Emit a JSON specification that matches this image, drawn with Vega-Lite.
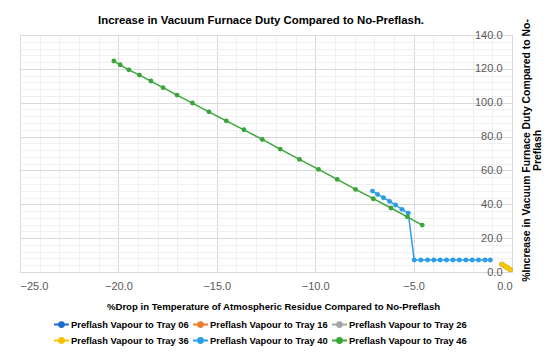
{
  "$schema": "https://vega.github.io/schema/vega-lite/v6.json",
  "width": 492,
  "height": 237,
  "autosize": {"type": "none"},
  "padding": {"left": 20, "top": 35, "right": 38, "bottom": 85},
  "background": "white",
  "title": {"text": "Increase in Vacuum Furnace Duty Compared to No-Preflash.", "font": "Liberation Sans", "fontSize": 11.4, "fontWeight": "bold", "color": "#000000", "anchor": "middle", "offset": -9, "dx": -5},
  "config": {"view": {"stroke": null}, "font": "Liberation Sans"},
  "data": {"values": [
    {"s": "Preflash Vapour to Tray 06", "x": -0.52, "y": 4.6},
    {"s": "Preflash Vapour to Tray 06", "x": -0.38, "y": 3.6},
    {"s": "Preflash Vapour to Tray 06", "x": -0.24, "y": 2.5},
    {"s": "Preflash Vapour to Tray 06", "x": -0.09, "y": 1.4},
    {"s": "Preflash Vapour to Tray 16", "x": -0.50, "y": 4.5},
    {"s": "Preflash Vapour to Tray 16", "x": -0.36, "y": 3.4},
    {"s": "Preflash Vapour to Tray 16", "x": -0.22, "y": 2.4},
    {"s": "Preflash Vapour to Tray 16", "x": -0.10, "y": 1.5},
    {"s": "Preflash Vapour to Tray 26", "x": -0.48, "y": 4.3},
    {"s": "Preflash Vapour to Tray 26", "x": -0.34, "y": 3.3},
    {"s": "Preflash Vapour to Tray 26", "x": -0.20, "y": 2.2},
    {"s": "Preflash Vapour to Tray 26", "x": -0.10, "y": 1.5},
    {"s": "Preflash Vapour to Tray 36", "x": -0.52, "y": 4.6},
    {"s": "Preflash Vapour to Tray 36", "x": -0.46, "y": 4.2},
    {"s": "Preflash Vapour to Tray 36", "x": -0.40, "y": 3.7},
    {"s": "Preflash Vapour to Tray 36", "x": -0.34, "y": 3.3},
    {"s": "Preflash Vapour to Tray 36", "x": -0.28, "y": 2.8},
    {"s": "Preflash Vapour to Tray 36", "x": -0.22, "y": 2.4},
    {"s": "Preflash Vapour to Tray 36", "x": -0.16, "y": 1.9},
    {"s": "Preflash Vapour to Tray 36", "x": -0.09, "y": 1.4},
    {"s": "Preflash Vapour to Tray 40", "x": -7.09, "y": 47.8},
    {"s": "Preflash Vapour to Tray 40", "x": -6.83, "y": 45.8},
    {"s": "Preflash Vapour to Tray 40", "x": -6.53, "y": 43.9},
    {"s": "Preflash Vapour to Tray 40", "x": -6.22, "y": 41.7},
    {"s": "Preflash Vapour to Tray 40", "x": -5.92, "y": 39.6},
    {"s": "Preflash Vapour to Tray 40", "x": -5.59, "y": 37.0},
    {"s": "Preflash Vapour to Tray 40", "x": -5.27, "y": 34.8},
    {"s": "Preflash Vapour to Tray 40", "x": -4.97, "y": 7.1},
    {"s": "Preflash Vapour to Tray 40", "x": -4.63, "y": 7.1},
    {"s": "Preflash Vapour to Tray 40", "x": -4.29, "y": 7.1},
    {"s": "Preflash Vapour to Tray 40", "x": -3.97, "y": 7.1},
    {"s": "Preflash Vapour to Tray 40", "x": -3.65, "y": 7.1},
    {"s": "Preflash Vapour to Tray 40", "x": -3.33, "y": 7.1},
    {"s": "Preflash Vapour to Tray 40", "x": -3.00, "y": 7.1},
    {"s": "Preflash Vapour to Tray 40", "x": -2.68, "y": 7.1},
    {"s": "Preflash Vapour to Tray 40", "x": -2.34, "y": 7.1},
    {"s": "Preflash Vapour to Tray 40", "x": -2.02, "y": 7.1},
    {"s": "Preflash Vapour to Tray 40", "x": -1.70, "y": 7.1},
    {"s": "Preflash Vapour to Tray 40", "x": -1.37, "y": 7.1},
    {"s": "Preflash Vapour to Tray 40", "x": -1.10, "y": 7.1},
    {"s": "Preflash Vapour to Tray 46", "x": -20.23, "y": 124.6},
    {"s": "Preflash Vapour to Tray 46", "x": -19.91, "y": 122.4},
    {"s": "Preflash Vapour to Tray 46", "x": -19.47, "y": 119.4},
    {"s": "Preflash Vapour to Tray 46", "x": -18.93, "y": 116.3},
    {"s": "Preflash Vapour to Tray 46", "x": -18.35, "y": 112.8},
    {"s": "Preflash Vapour to Tray 46", "x": -17.73, "y": 108.9},
    {"s": "Preflash Vapour to Tray 46", "x": -17.02, "y": 104.5},
    {"s": "Preflash Vapour to Tray 46", "x": -16.24, "y": 99.8},
    {"s": "Preflash Vapour to Tray 46", "x": -15.40, "y": 94.6},
    {"s": "Preflash Vapour to Tray 46", "x": -14.52, "y": 89.3},
    {"s": "Preflash Vapour to Tray 46", "x": -13.62, "y": 84.0},
    {"s": "Preflash Vapour to Tray 46", "x": -12.69, "y": 78.3},
    {"s": "Preflash Vapour to Tray 46", "x": -11.78, "y": 72.6},
    {"s": "Preflash Vapour to Tray 46", "x": -10.80, "y": 66.5},
    {"s": "Preflash Vapour to Tray 46", "x": -9.83, "y": 60.6},
    {"s": "Preflash Vapour to Tray 46", "x": -8.88, "y": 54.7},
    {"s": "Preflash Vapour to Tray 46", "x": -7.95, "y": 48.8},
    {"s": "Preflash Vapour to Tray 46", "x": -7.05, "y": 43.3},
    {"s": "Preflash Vapour to Tray 46", "x": -6.15, "y": 37.8},
    {"s": "Preflash Vapour to Tray 46", "x": -5.32, "y": 32.6},
    {"s": "Preflash Vapour to Tray 46", "x": -4.56, "y": 27.7}
  ]},
  "mark": {"type": "line", "strokeWidth": 1.5, "point": {"filled": true, "size": 24, "opacity": 1}},
  "encoding": {
    "x": {
      "field": "x", "type": "quantitative",
      "scale": {"domain": [-25, 0], "nice": false, "zero": false},
      "axis": {
        "title": "%Drop in Temperature of Atmospheric Residue Compared to No-Preflash",
        "titleFont": "Liberation Sans", "titleFontSize": 9.6, "titleFontWeight": "bold", "titleColor": "#000000",
        "titleX": 253, "titleY": 34, "titleBaseline": "middle", "titleAnchor": null, "titleAlign": "center",
        "values": [-25,-24,-23,-22,-21,-20,-19,-18,-17,-16,-15,-14,-13,-12,-11,-10,-9,-8,-7,-6,-5,-4,-3,-2,-1,0],
        "labelExpr": "datum.value % 5 === 0 ? format(datum.value, '.1f') : ''",
        "labelOverlap": false, "labelFont": "Liberation Sans", "labelFontSize": 11, "labelColor": "#595959", "labelPadding": 8,
        "ticks": false, "domainColor": "#d9d9d9",
        "grid": true,
        "gridColor": {"condition": {"test": "datum.value % 5 === 0", "value": "#d9d9d9"}, "value": "#f0f0f0"}
      }
    },
    "y": {
      "field": "y", "type": "quantitative",
      "scale": {"domain": [0, 140], "nice": false},
      "axis": {
        "orient": "right",
        "title": ["%Increase  in Vacuum Furnace Duty Compared to No-", "Preflash"],
        "titleFont": "Liberation Sans", "titleFontSize": 10.4, "titleFontWeight": "bold", "titleColor": "#000000",
        "titleAngle": -90, "titleX": 9, "titleY": 115, "titleBaseline": "top", "titleAlign": "center", "titleAnchor": null, "titleLineHeight": 11,
        "values": [0,4,8,12,16,20,24,28,32,36,40,44,48,52,56,60,64,68,72,76,80,84,88,92,96,100,104,108,112,116,120,124,128,132,136,140],
        "labelExpr": "datum.value % 20 === 0 ? format(datum.value, '.1f') : ''",
        "labelOverlap": false, "labelFont": "Liberation Sans", "labelFontSize": 11, "labelColor": "#595959",
        "labelAlign": "right", "labelPadding": -10, "ticks": false, "domainColor": "#d9d9d9",
        "grid": true,
        "gridColor": {"condition": {"test": "datum.value % 20 === 0", "value": "#d9d9d9"}, "value": "#f0f0f0"}
      }
    },
    "color": {
      "field": "s", "type": "nominal",
      "scale": {
        "domain": ["Preflash Vapour to Tray 06", "Preflash Vapour to Tray 16", "Preflash Vapour to Tray 26", "Preflash Vapour to Tray 36", "Preflash Vapour to Tray 40", "Preflash Vapour to Tray 46"],
        "range": ["#1f6bd0", "#ed7d31", "#a5a5a5", "#f8c300", "#2b9de8", "#3aa63a"]
      },
      "legend": {
        "title": null, "orient": "none", "legendX": 33, "legendY": 281, "columns": 3, "direction": "horizontal",
        "symbolType": "M-1,0L1,0M-0.32,0A0.32,0.32,0,1,0,0.32,0A0.32,0.32,0,1,0,-0.32,0Z",
        "symbolSize": 225, "symbolStrokeWidth": 2,
        "labelFont": "Liberation Sans", "labelFontSize": 9.4, "labelFontWeight": "bold", "labelColor": "#000000",
        "labelOffset": 1, "columnPadding": 0, "rowPadding": 1, "labelLimit": 300,
        "encode": {"symbols": {"update": {"fill": {"scale": "color", "field": "value"}, "stroke": {"scale": "color", "field": "value"}, "opacity": {"value": 1}}}}
      }
    }
  }
}
